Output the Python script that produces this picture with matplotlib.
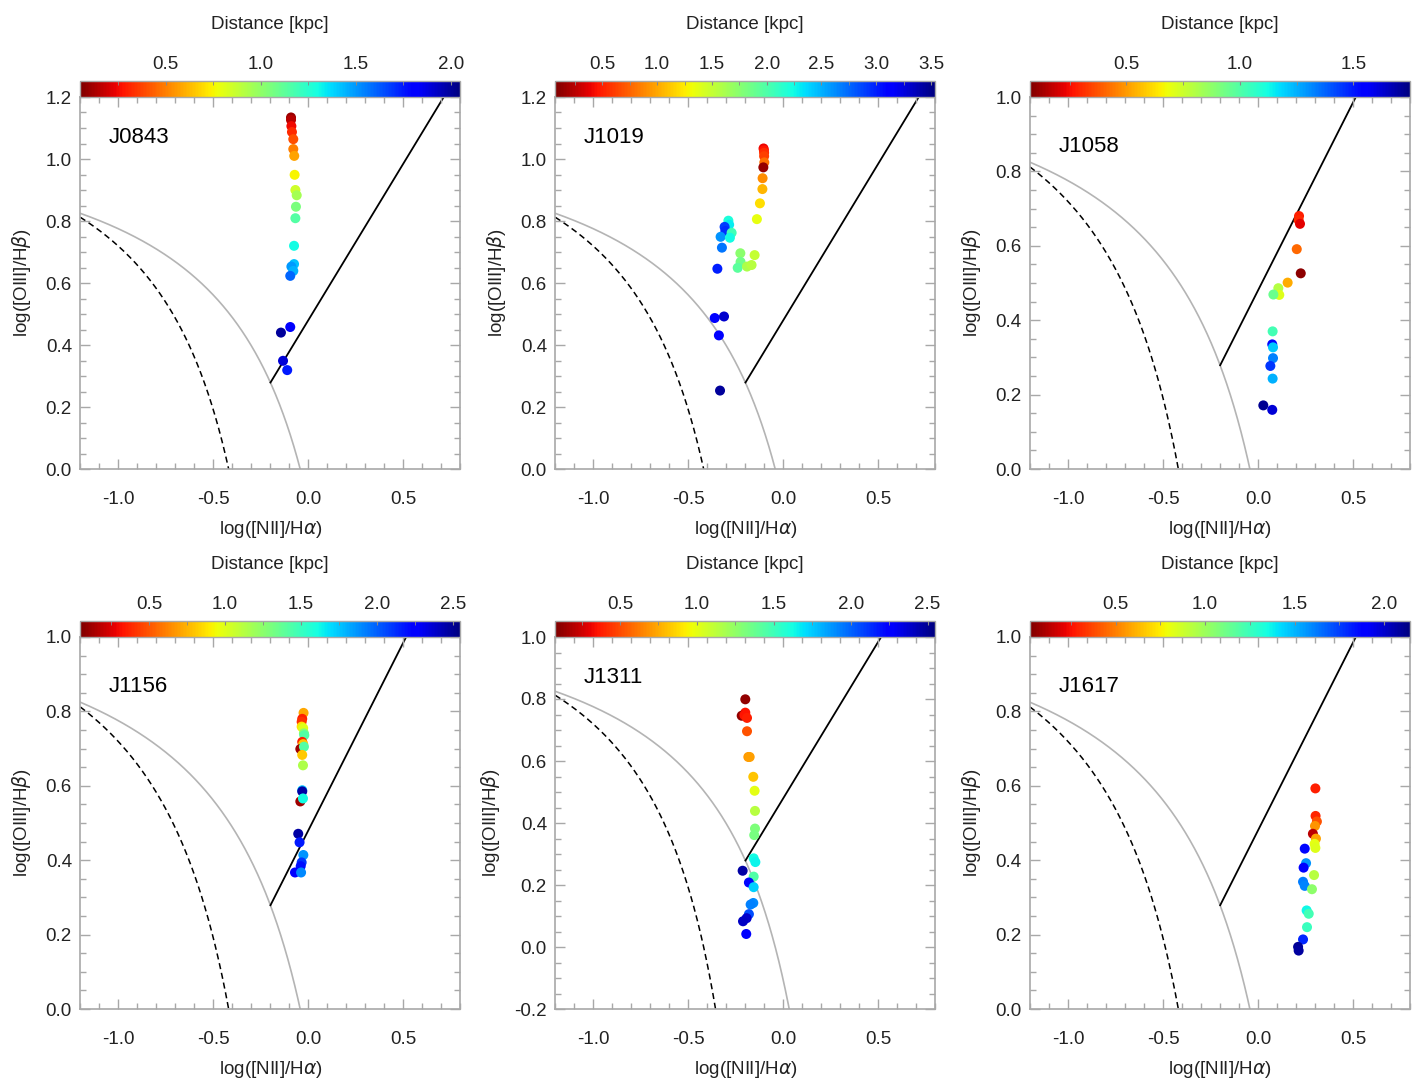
import numpy as np
import matplotlib
matplotlib.use("Agg")
import matplotlib.pyplot as plt
from matplotlib.ticker import MultipleLocator

plt.rcParams['font.family'] = ['Liberation Sans', 'DejaVu Sans']
plt.rcParams['mathtext.fontset'] = 'dejavusans'

# ---------------- data ----------------
names = ["J0843", "J1019", "J1058", "J1156", "J1311", "J1617"]

j0843_x = [-0.091, -0.091, -0.089, -0.086, -0.079, -0.079, -0.074, -0.072, -0.068, -0.061, -0.065,
           -0.068, -0.075, -0.075, -0.089, -0.079, -0.095, -0.095, -0.144, -0.133, -0.111]
j0843_y = [1.134, 1.126, 1.106, 1.087, 1.064, 1.032, 1.010, 0.949, 0.900, 0.883, 0.846,
           0.809, 0.720, 0.661, 0.653, 0.639, 0.623, 0.458, 0.440, 0.349, 0.319]
j0843_d = [0.10, 0.15, 0.25, 0.32, 0.40, 0.50, 0.58, 0.75, 0.85, 0.95, 1.05,
           1.15, 1.30, 1.42, 1.50, 1.45, 1.60, 1.80, 2.00, 1.90, 1.75]

j1019_x = [-0.104, -0.102, -0.101, -0.101, -0.100, -0.105, -0.109, -0.110, -0.123, -0.139,
           -0.289, -0.285, -0.309, -0.305, -0.272, -0.330, -0.281, -0.323, -0.226, -0.151,
           -0.225, -0.240, -0.191, -0.167, -0.347, -0.361, -0.312, -0.339, -0.333]
j1019_y = [1.034, 1.028, 1.020, 1.009, 0.989, 0.973, 0.938, 0.903, 0.857, 0.806,
           0.801, 0.788, 0.781, 0.768, 0.762, 0.749, 0.746, 0.714, 0.696, 0.690,
           0.668, 0.649, 0.653, 0.658, 0.646, 0.487, 0.492, 0.431, 0.253]
j1019_d = [0.40, 0.45, 0.55, 0.62, 0.80, 0.15, 0.90, 1.05, 1.20, 1.35,
           2.20, 2.30, 2.90, 2.95, 2.05, 2.60, 2.25, 2.70, 1.75, 1.50,
           1.85, 1.95, 1.60, 1.55, 3.00, 3.10, 3.30, 3.15, 3.45]

j1058_x = [0.216, 0.214, 0.221, 0.204, 0.225, 0.156, 0.107, 0.112, 0.081,
           0.077, 0.075, 0.079, 0.079, 0.065, 0.077, 0.028, 0.075]
j1058_y = [0.680, 0.669, 0.659, 0.591, 0.526, 0.501, 0.486, 0.468, 0.469,
           0.370, 0.335, 0.327, 0.298, 0.277, 0.243, 0.171, 0.159]
j1058_d = [0.28, 0.30, 0.22, 0.41, 0.10, 0.53, 0.80, 0.71, 0.95,
           1.03, 1.53, 1.21, 1.33, 1.45, 1.25, 1.72, 1.62]

j1156_x = [-0.025, -0.032, -0.035, -0.035, -0.027, -0.023, -0.021, -0.032, -0.027, -0.042,
           -0.023, -0.032, -0.028, -0.032, -0.032, -0.042, -0.028, -0.053, -0.046, -0.026,
           -0.035, -0.040, -0.070, -0.038]
j1156_y = [0.796, 0.780, 0.772, 0.759, 0.755, 0.741, 0.736, 0.718, 0.712, 0.699,
           0.705, 0.683, 0.655, 0.588, 0.585, 0.558, 0.566, 0.471, 0.448, 0.414,
           0.394, 0.384, 0.367, 0.367]
j1156_d = [0.72, 0.35, 0.40, 0.87, 1.00, 1.25, 1.42, 0.35, 0.80, 0.12,
           1.42, 0.80, 1.15, 1.75, 2.47, 0.12, 1.62, 2.47, 2.17, 1.87,
           2.10, 2.20, 2.25, 1.90]

j1311_x = [-0.200, -0.200, -0.219, -0.205, -0.191, -0.191, -0.184, -0.177, -0.158, -0.151,
           -0.149, -0.149, -0.153, -0.156, -0.147, -0.214, -0.156, -0.181, -0.156, -0.158,
           -0.172, -0.181, -0.193, -0.212, -0.195]
j1311_y = [0.799, 0.756, 0.746, 0.748, 0.739, 0.696, 0.613, 0.613, 0.549, 0.504,
           0.439, 0.382, 0.361, 0.286, 0.274, 0.246, 0.227, 0.208, 0.193, 0.142,
           0.137, 0.106, 0.093, 0.083, 0.042]
j1311_d = [0.12, 0.35, 0.12, 0.35, 0.38, 0.52, 0.70, 0.72, 0.82, 1.00,
           1.14, 1.31, 1.33, 1.63, 1.65, 2.47, 1.44, 2.23, 1.73, 1.91,
           1.93, 2.05, 2.38, 2.40, 2.25]

j1617_x = [0.302, 0.303, 0.310, 0.300, 0.289, 0.305, 0.298, 0.302, 0.246, 0.253, 0.240,
           0.295, 0.237, 0.246, 0.284, 0.256, 0.267, 0.258, 0.237, 0.211, 0.214]
j1617_y = [0.593, 0.519, 0.504, 0.492, 0.471, 0.458, 0.444, 0.433, 0.431, 0.392, 0.380,
           0.360, 0.342, 0.331, 0.322, 0.265, 0.256, 0.220, 0.187, 0.167, 0.157]
j1617_d = [0.28, 0.30, 0.40, 0.55, 0.13, 0.58, 0.81, 0.83, 1.87, 1.57, 1.90,
           0.93, 1.62, 1.60, 1.04, 1.36, 1.23, 1.25, 1.80, 2.10, 2.08]

xs = [j0843_x, j1019_x, j1058_x, j1156_x, j1311_x, j1617_x]
ys = [j0843_y, j1019_y, j1058_y, j1156_y, j1311_y, j1617_y]
ds = [j0843_d, j1019_d, j1058_d, j1156_d, j1311_d, j1617_d]

ylims = [(0.0, 1.2), (0.0, 1.2), (0.0, 1.0), (0.0, 1.0), (-0.2, 1.0), (0.0, 1.0)]
cranges = [(0.05, 2.05), (0.07, 3.54), (0.075, 1.75), (0.045, 2.55), (0.079, 2.55), (0.02, 2.146)]
name_y = [1.07, 1.07, 0.868, 0.868, 0.87, 0.868]

# ---------------- figure ----------------
W, H = 1424, 1080
fig = plt.figure(figsize=(W / 100, H / 100), dpi=100)

lefts_px = [80.3, 555.3, 1030.0]
bottoms_px = [469.0, 1009.0]
aw, ah = 380.0, 372.0
cb_h = 16.0

grey = '#a8a8a8'
txt = '#222222'
fs = 13.5

xline = np.linspace(-1.5, 0.46, 2000)
kew = 0.61 / (xline - 0.47) + 1.19
kauff_x = np.linspace(-1.5, 0.04, 2000)
kauff = 0.61 / (kauff_x - 0.05) + 1.3
cid_x_all = np.linspace(-1.0, 1.0, 4001)
cid_y_all = 1.01 * cid_x_all + 0.48
kew_at = 0.61 / (cid_x_all - 0.47) + 1.19
mask = (cid_x_all < 0.47) & (cid_y_all >= kew_at)
x_int = cid_x_all[mask & (cid_x_all > -0.6)].min()
cid_x = np.linspace(x_int, 1.0, 200)
cid_y = 1.01 * cid_x + 0.48

for i in range(6):
    r, c = divmod(i, 3)
    l = lefts_px[c] / W
    b = 1 - bottoms_px[r] / H
    ax = fig.add_axes([l, b, aw / W, ah / H])
    cax = fig.add_axes([l, b + ah / H, aw / W, cb_h / H])

    ax.plot(xline, kew, color='#b4b4b4', lw=1.2, zorder=1)
    ax.plot(kauff_x, kauff, color='black', lw=1.1, ls=(0, (4, 2.5)), zorder=1)
    ax.plot(cid_x, cid_y, color='black', lw=1.3, zorder=1)

    vmin, vmax = cranges[i]
    sc = ax.scatter(xs[i], ys[i], c=ds[i], cmap='jet_r', vmin=vmin, vmax=vmax,
                    s=52, linewidths=0, zorder=3)

    ax.set_xlim(-1.2, 0.8)
    ax.set_ylim(*ylims[i])
    ax.xaxis.set_major_locator(MultipleLocator(0.5))
    ax.xaxis.set_minor_locator(MultipleLocator(0.1))
    ax.yaxis.set_major_locator(MultipleLocator(0.2))
    ax.yaxis.set_minor_locator(MultipleLocator(0.05))
    ax.tick_params(which='both', direction='in', top=True, right=True, color=grey,
                   labelcolor=txt, labelsize=fs)
    ax.tick_params(which='major', length=7, width=1)
    ax.tick_params(which='minor', length=4, width=1)
    ax.tick_params(axis='x', which='major', pad=16)
    ax.tick_params(axis='y', which='major', pad=6)
    for sp in ax.spines.values():
        sp.set_color(grey)
        sp.set_linewidth(1.2)
    ax.xaxis.set_major_formatter(matplotlib.ticker.FormatStrFormatter('%.1f'))
    ax.yaxis.set_major_formatter(matplotlib.ticker.FormatStrFormatter('%.1f'))
    ax.set_xlabel(r'log([NII]/H$\alpha$)', fontsize=fs, color=txt, labelpad=8)
    ax.set_ylabel(r'log([OIII]/H$\beta$)', fontsize=fs, color=txt, labelpad=9)
    ax.text(-1.05, name_y[i], names[i], fontsize=16, color='black', ha='left', va='center')

    cb = fig.colorbar(sc, cax=cax, orientation='horizontal')
    cb.outline.set_edgecolor(grey)
    cb.outline.set_linewidth(1.0)
    cax.xaxis.set_ticks_position('top')
    cax.xaxis.set_label_position('top')
    cax.xaxis.set_major_locator(MultipleLocator(0.5))
    cax.xaxis.set_minor_locator(MultipleLocator(0.25))
    cax.xaxis.set_major_formatter(matplotlib.ticker.FormatStrFormatter('%.1f'))
    cax.tick_params(which='both', direction='in', color='#888888', labelcolor=txt,
                    labelsize=fs, length=3, pad=6)
    cax.set_xlabel('Distance [kpc]', fontsize=fs, color=txt, labelpad=19)

fig.savefig('out.png', dpi=100)
